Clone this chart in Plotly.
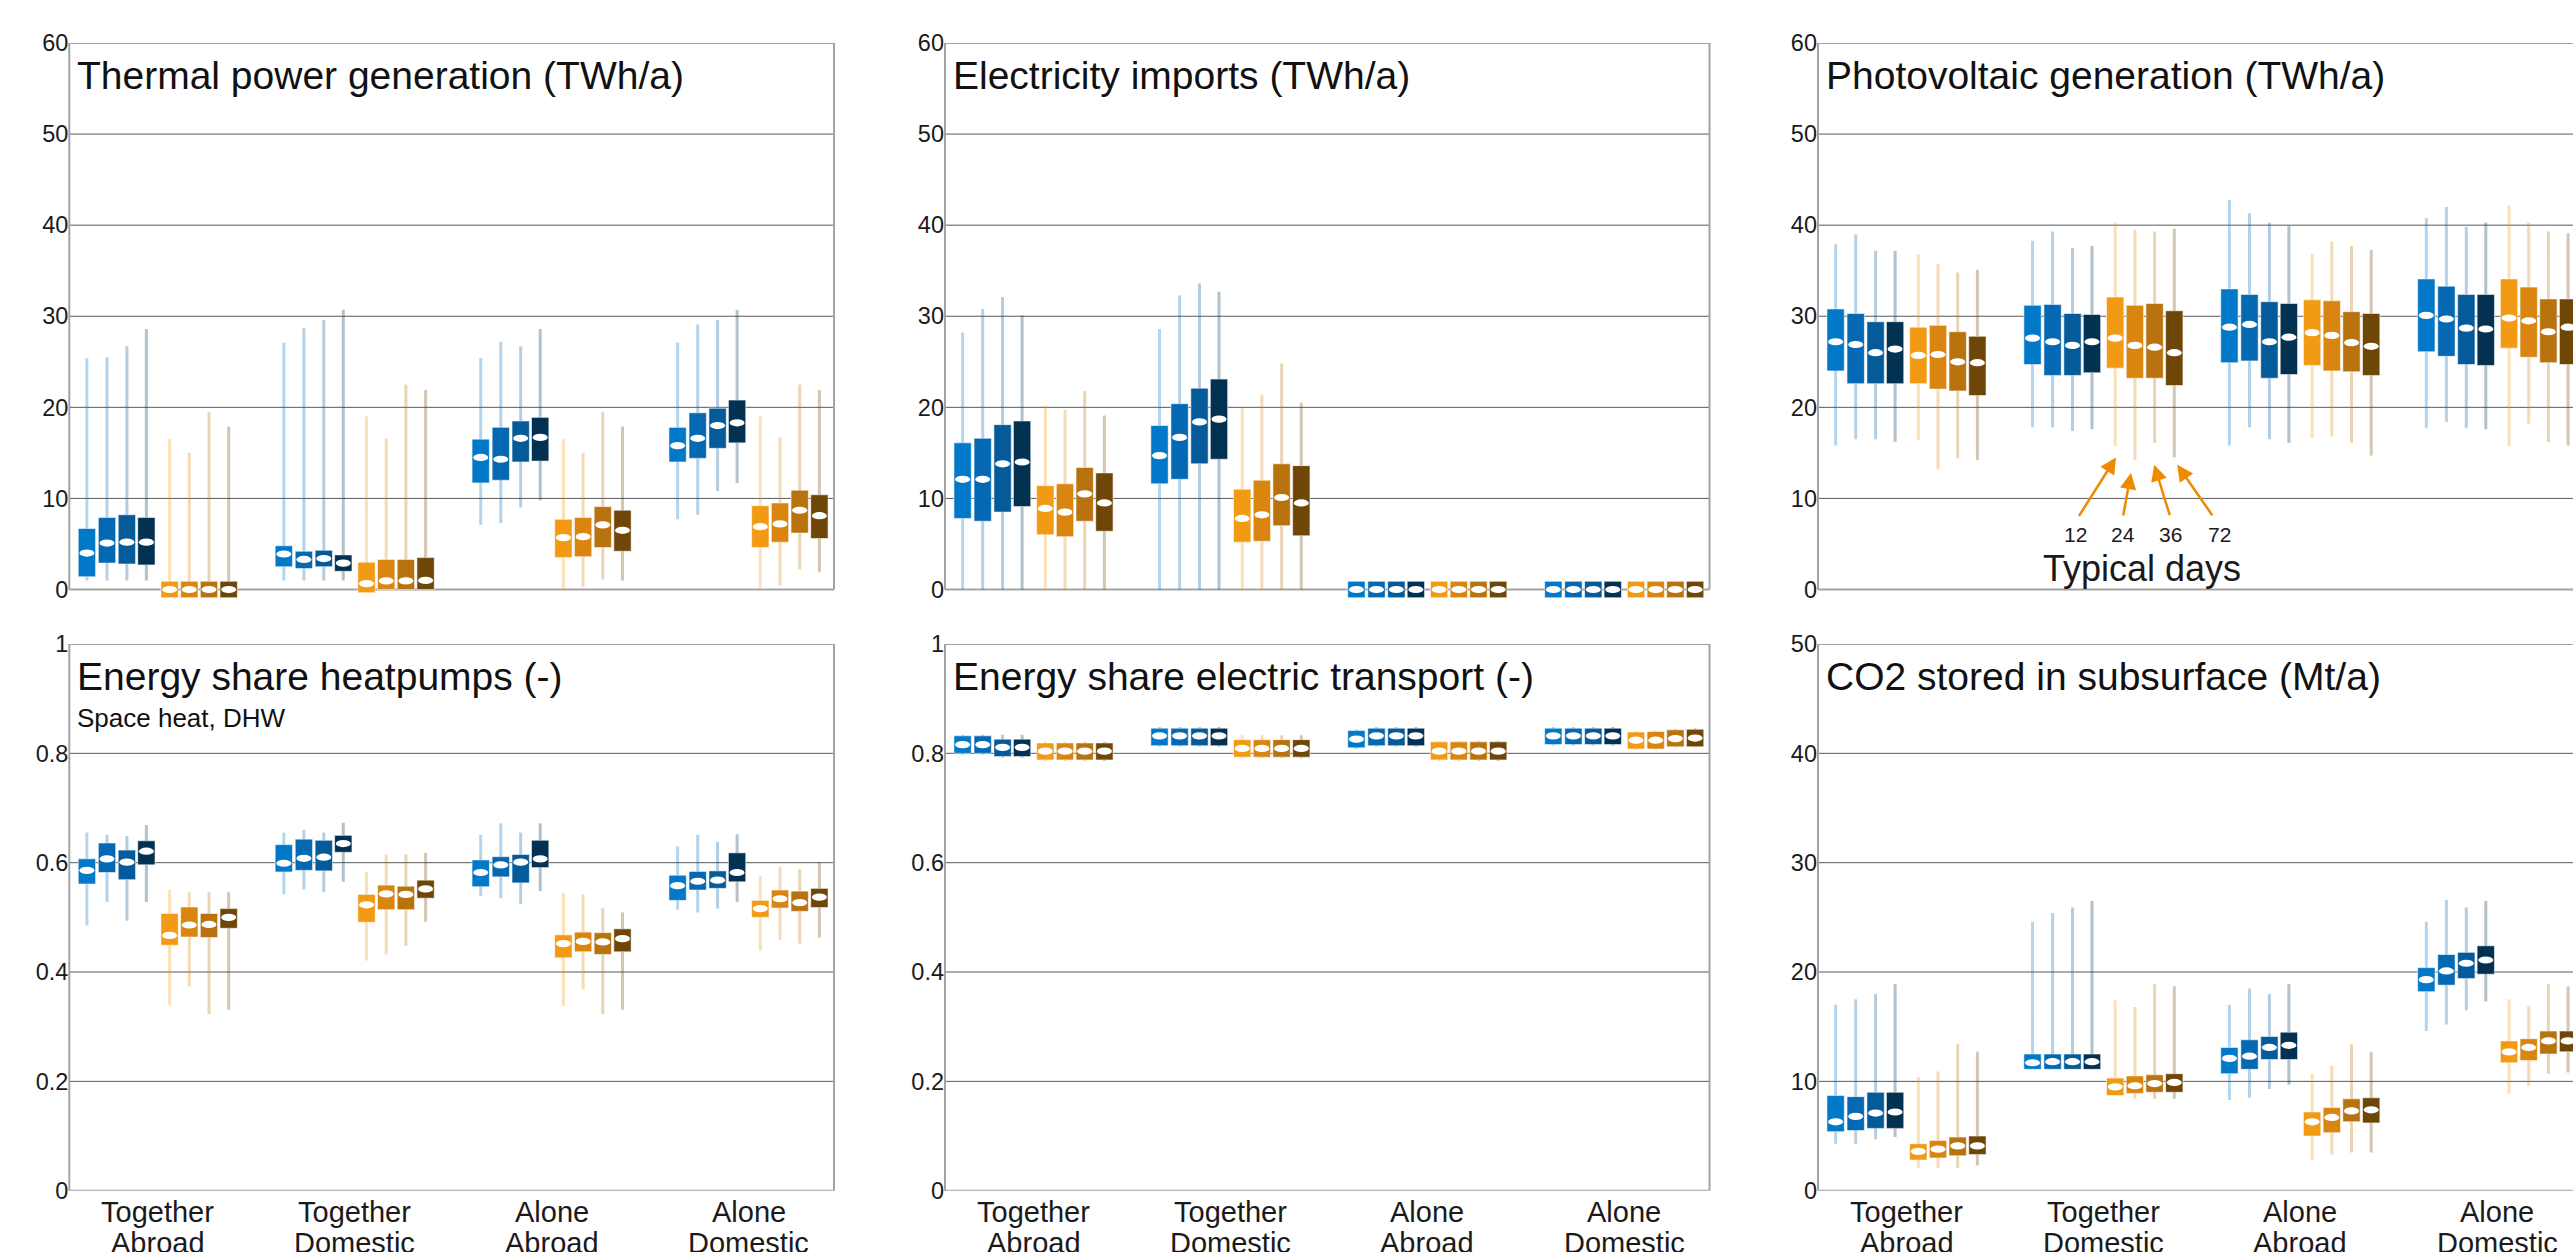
import plotly.graph_objects as go

W, H = 2573, 1252

# ---------------- data ----------------
group_line1 = ["Together", "Together", "Alone", "Alone"]
group_line2 = ["Abroad", "Domestic", "Abroad", "Domestic"]
typical_days = ["12", "24", "36", "72"]
# order inside each group: blue 12,24,36,72 then orange 12,24,36,72

thermal_lo = [[1.0, 1.0, 1.0, 1.0, 0, 0, 0, 0], [1.0, 1.0, 1.0, 1.0, 0, 0, 0, 0],
              [7.1, 7.3, 9.0, 9.8, 0, 0.3, 1.1, 1.0], [7.7, 8.2, 10.8, 11.7, 0.2, 0.4, 2.2, 1.9]]
thermal_q1 = [[1.4, 2.9, 2.8, 2.7, -0.9, -0.9, -0.9, -0.9], [2.5, 2.3, 2.5, 2.0, -0.35, 0, 0, 0],
              [11.7, 12.0, 14.0, 14.1, 3.5, 3.6, 4.6, 4.2], [14.0, 14.4, 15.5, 16.1, 4.6, 5.2, 6.2, 5.6]]
thermal_med = [[4.0, 5.1, 5.2, 5.2, 0, 0, 0, 0], [3.9, 3.3, 3.4, 2.9, 0.65, 0.95, 0.95, 1.0],
               [14.5, 14.3, 16.6, 16.7, 5.7, 5.8, 7.1, 6.5], [15.8, 16.6, 18.0, 18.3, 6.9, 7.2, 8.7, 8.1]]
thermal_q3 = [[6.7, 7.9, 8.2, 7.9, 0.9, 0.9, 0.9, 0.9], [4.8, 4.2, 4.3, 3.8, 3.0, 3.3, 3.3, 3.5],
              [16.5, 17.8, 18.5, 18.9, 7.7, 7.9, 9.1, 8.7], [17.8, 19.4, 19.9, 20.8, 9.2, 9.5, 10.9, 10.4]]
thermal_hi = [[25.4, 25.5, 26.7, 28.6, 16.5, 15.0, 19.5, 17.9], [27.1, 28.7, 29.6, 30.7, 19.0, 16.6, 22.5, 21.9],
              [25.4, 27.2, 26.7, 28.6, 16.5, 15.0, 19.5, 17.9], [27.1, 29.1, 29.6, 30.7, 19.0, 16.7, 22.5, 21.9]]

imports_lo = [[0, 0, 0, 0, 0, 0, 0, 0], [0, 0, 0, 0, 0, 0, 0, 0],
              [0, 0, 0, 0, 0, 0, 0, 0], [0, 0, 0, 0, 0, 0, 0, 0]]
imports_q1 = [[7.8, 7.5, 8.5, 9.1, 6.0, 5.8, 7.5, 6.4], [11.6, 12.1, 13.8, 14.3, 5.2, 5.3, 7.0, 5.9],
              [-0.9, -0.9, -0.9, -0.9, -0.9, -0.9, -0.9, -0.9], [-0.9, -0.9, -0.9, -0.9, -0.9, -0.9, -0.9, -0.9]]
imports_med = [[12.1, 12.1, 13.8, 14.0, 8.9, 8.5, 10.5, 9.5], [14.7, 16.7, 18.4, 18.7, 7.8, 8.2, 10.1, 9.5],
               [0, 0, 0, 0, 0, 0, 0, 0], [0, 0, 0, 0, 0, 0, 0, 0]]
imports_q3 = [[16.1, 16.6, 18.1, 18.5, 11.4, 11.6, 13.4, 12.8], [18.0, 20.4, 22.1, 23.1, 11.0, 12.0, 13.8, 13.6],
              [0.9, 0.9, 0.9, 0.9, 0.9, 0.9, 0.9, 0.9], [0.9, 0.9, 0.9, 0.9, 0.9, 0.9, 0.9, 0.9]]
imports_hi = [[28.2, 30.8, 32.1, 30.1, 20.2, 19.7, 21.8, 19.1], [28.6, 32.3, 33.6, 32.7, 20.0, 21.4, 24.8, 20.5],
              [0, 0, 0, 0, 0, 0, 0, 0], [0, 0, 0, 0, 0, 0, 0, 0]]

pv_lo = [[15.8, 16.5, 16.5, 16.2, 16.4, 13.2, 14.4, 14.2], [17.8, 17.8, 17.4, 17.6, 15.7, 14.2, 16.1, 14.5],
         [15.8, 17.8, 16.5, 16.1, 16.6, 16.8, 16.1, 14.7], [17.7, 18.4, 17.7, 17.6, 15.7, 18.2, 16.2, 15.8]]
pv_q1 = [[24.0, 22.6, 22.6, 22.6, 22.6, 22.0, 21.8, 21.3], [24.7, 23.5, 23.5, 23.8, 24.3, 23.2, 23.2, 22.4],
         [24.9, 25.1, 23.2, 23.6, 24.6, 24.0, 23.9, 23.5], [26.1, 25.6, 24.7, 24.6, 26.5, 25.5, 24.9, 24.7]]
pv_med = [[27.2, 26.9, 26.0, 26.4, 25.7, 25.8, 25.0, 24.9], [27.6, 27.2, 26.8, 27.2, 27.6, 26.8, 26.6, 26.0],
          [28.8, 29.1, 27.2, 27.7, 28.2, 27.9, 27.1, 26.7], [30.1, 29.7, 28.7, 28.6, 29.8, 29.5, 28.3, 28.8]]
pv_q3 = [[30.8, 30.3, 29.4, 29.4, 28.8, 29.0, 28.3, 27.8], [31.2, 31.3, 30.3, 30.2, 32.1, 31.2, 31.4, 30.6],
         [33.0, 32.4, 31.6, 31.4, 31.8, 31.7, 30.5, 30.3], [34.1, 33.3, 32.4, 32.4, 34.1, 33.2, 31.9, 31.9]]
pv_hi = [[37.9, 39.0, 37.2, 37.2, 36.8, 35.7, 34.8, 35.1], [38.3, 39.3, 37.5, 37.7, 40.3, 39.5, 39.3, 39.6],
         [42.8, 41.3, 40.3, 39.9, 36.9, 38.2, 37.7, 37.3], [40.8, 42.0, 39.8, 40.3, 42.2, 40.3, 39.3, 39.1]]

hp_lo = [[0.485, 0.528, 0.494, 0.528, 0.339, 0.373, 0.323, 0.331], [0.542, 0.551, 0.546, 0.565, 0.421, 0.432, 0.448, 0.492],
         [0.539, 0.535, 0.524, 0.548, 0.338, 0.368, 0.323, 0.331], [0.514, 0.509, 0.516, 0.528, 0.439, 0.459, 0.452, 0.463]]
hp_q1 = [[0.561, 0.582, 0.569, 0.596, 0.449, 0.464, 0.463, 0.480], [0.583, 0.586, 0.585, 0.619, 0.491, 0.514, 0.514, 0.535],
         [0.556, 0.574, 0.563, 0.591, 0.426, 0.437, 0.432, 0.437], [0.531, 0.550, 0.553, 0.565, 0.500, 0.517, 0.511, 0.518]]
hp_med = [[0.586, 0.607, 0.601, 0.621, 0.467, 0.486, 0.487, 0.500], [0.599, 0.608, 0.610, 0.635, 0.523, 0.543, 0.542, 0.552],
          [0.582, 0.596, 0.601, 0.607, 0.452, 0.456, 0.455, 0.461], [0.558, 0.566, 0.568, 0.582, 0.516, 0.534, 0.527, 0.537]]
hp_q3 = [[0.607, 0.636, 0.623, 0.640, 0.507, 0.519, 0.507, 0.516], [0.633, 0.643, 0.641, 0.650, 0.542, 0.559, 0.557, 0.568],
         [0.605, 0.611, 0.615, 0.641, 0.468, 0.473, 0.472, 0.479], [0.577, 0.584, 0.585, 0.618, 0.531, 0.550, 0.548, 0.553]]
hp_hi = [[0.655, 0.651, 0.649, 0.669, 0.550, 0.546, 0.546, 0.546], [0.655, 0.660, 0.655, 0.673, 0.583, 0.615, 0.615, 0.618],
         [0.651, 0.672, 0.655, 0.672, 0.545, 0.542, 0.517, 0.509], [0.630, 0.651, 0.638, 0.652, 0.576, 0.593, 0.588, 0.600]]

tr_lo = [[0.798, 0.798, 0.792, 0.792, 0.786, 0.786, 0.786, 0.786], [0.812, 0.812, 0.812, 0.812, 0.791, 0.791, 0.791, 0.791],
         [0.808, 0.812, 0.812, 0.812, 0.786, 0.786, 0.786, 0.786], [0.814, 0.814, 0.814, 0.814, 0.806, 0.806, 0.810, 0.811]]
tr_q1 = [[0.800, 0.800, 0.794, 0.794, 0.788, 0.788, 0.788, 0.788], [0.814, 0.814, 0.814, 0.814, 0.793, 0.793, 0.793, 0.793],
         [0.810, 0.814, 0.814, 0.814, 0.788, 0.788, 0.788, 0.788], [0.816, 0.816, 0.816, 0.816, 0.808, 0.808, 0.812, 0.812]]
tr_med = [[0.816, 0.816, 0.811, 0.811, 0.804, 0.804, 0.804, 0.804], [0.832, 0.832, 0.832, 0.832, 0.809, 0.809, 0.809, 0.809],
          [0.826, 0.832, 0.832, 0.832, 0.804, 0.804, 0.804, 0.804], [0.832, 0.832, 0.832, 0.832, 0.824, 0.824, 0.827, 0.828]]
tr_q3 = [[0.832, 0.832, 0.826, 0.826, 0.819, 0.819, 0.819, 0.819], [0.846, 0.846, 0.846, 0.846, 0.825, 0.825, 0.825, 0.825],
         [0.842, 0.846, 0.846, 0.846, 0.821, 0.821, 0.821, 0.821], [0.846, 0.846, 0.846, 0.846, 0.839, 0.840, 0.843, 0.844]]
tr_hi = [[0.834, 0.834, 0.834, 0.834, 0.821, 0.821, 0.821, 0.821], [0.848, 0.848, 0.848, 0.848, 0.833, 0.833, 0.833, 0.833],
         [0.844, 0.848, 0.848, 0.848, 0.823, 0.823, 0.823, 0.823], [0.848, 0.848, 0.848, 0.848, 0.841, 0.842, 0.845, 0.846]]

co2_lo = [[4.3, 4.3, 4.7, 4.9, 2.1, 2.1, 2.1, 2.3], [11.1, 11.1, 11.1, 11.1, 8.7, 8.4, 8.4, 8.4],
          [8.3, 8.5, 9.3, 9.7, 2.8, 3.3, 3.5, 3.5], [14.6, 15.2, 16.5, 17.3, 8.9, 9.6, 10.7, 10.8]]
co2_q1 = [[5.4, 5.5, 5.7, 5.7, 2.8, 3.0, 3.2, 3.3], [11.1, 11.1, 11.1, 11.1, 8.7, 8.9, 9.0, 9.0],
          [10.7, 11.1, 12.0, 12.0, 5.0, 5.3, 6.3, 6.2], [18.2, 18.8, 19.4, 19.8, 11.7, 11.9, 12.5, 12.7]]
co2_med = [[6.3, 6.8, 7.1, 7.2, 3.6, 3.8, 4.1, 4.1], [11.7, 11.8, 11.8, 11.8, 9.5, 9.6, 9.8, 9.9],
           [12.1, 12.3, 13.1, 13.3, 6.3, 6.7, 7.3, 7.4], [19.3, 20.1, 20.8, 21.1, 12.7, 13.1, 13.7, 13.7]]
co2_q3 = [[8.7, 8.6, 9.0, 9.0, 4.3, 4.6, 4.9, 5.0], [12.5, 12.5, 12.5, 12.5, 10.3, 10.5, 10.6, 10.7],
          [13.1, 13.8, 14.1, 14.5, 7.2, 7.6, 8.4, 8.5], [20.4, 21.6, 21.8, 22.4, 13.7, 13.9, 14.6, 14.6]]
co2_hi = [[17.0, 17.5, 18.0, 18.9, 10.4, 10.9, 13.4, 12.7], [24.6, 25.4, 25.9, 26.5, 17.4, 16.8, 18.9, 18.7],
          [17.0, 18.5, 18.0, 18.9, 10.7, 11.4, 13.4, 12.7], [24.6, 26.6, 25.9, 26.5, 17.5, 16.9, 18.9, 18.7]]

ticks_60 = [0, 10, 20, 30, 40, 50, 60]
ticks_1 = [0, 0.2, 0.4, 0.6, 0.8, 1]
ticktext_1 = ["0", "0.2", "0.4", "0.6", "0.8", "1"]
ticks_50 = [0, 10, 20, 30, 40, 50]

# ---------------- styling ----------------
FONT = "Liberation Sans, Arial, Helvetica, sans-serif"
COLORS = ["#0278c8", "#0468b3", "#055a9a", "#033152",
          "#f29a14", "#d9850f", "#b8720e", "#6e4608"]
OFFSETS = [-0.36, -0.258, -0.157, -0.058, 0.06, 0.16, 0.26, 0.36]
BOX_W = 0.088
GROUP_PX = 196.9
X_LEFT = -0.4495


def rgba(hexc, a):
    h = hexc.lstrip("#")
    return "rgba(%d,%d,%d,%.2f)" % (int(h[0:2], 16), int(h[2:4], 16), int(h[4:6], 16), a)


def px(xp):
    return xp / W


def py(yp):
    return 1 - yp / H


ROW1_TOP, ROW1_ZERO, ROW1_PXU = 43.0, 589.5, 9.108
ROW2_TOP, ROW2_ZERO = 644.0, 1190.7
COLS = [(69.3, 834.0), (945.0, 1709.5), (1818.0, 2573.0)]
BELOW = 1.3

panels = [
    dict(title="Thermal power generation (TWh/a)", sub=None, d=(thermal_lo, thermal_q1, thermal_med, thermal_q3, thermal_hi),
         ymax=60, tv=ticks_60, tt=[str(v) for v in ticks_60], row=1, col=0),
    dict(title="Electricity imports (TWh/a)", sub=None, d=(imports_lo, imports_q1, imports_med, imports_q3, imports_hi),
         ymax=60, tv=ticks_60, tt=[str(v) for v in ticks_60], row=1, col=1),
    dict(title="Photovoltaic generation (TWh/a)", sub=None, d=(pv_lo, pv_q1, pv_med, pv_q3, pv_hi),
         ymax=60, tv=ticks_60, tt=[str(v) for v in ticks_60], row=1, col=2),
    dict(title="Energy share heatpumps (-)", sub="Space heat, DHW", d=(hp_lo, hp_q1, hp_med, hp_q3, hp_hi),
         ymax=1, tv=ticks_1, tt=ticktext_1, row=2, col=0),
    dict(title="Energy share electric transport (-)", sub=None, d=(tr_lo, tr_q1, tr_med, tr_q3, tr_hi),
         ymax=1, tv=ticks_1, tt=ticktext_1, row=2, col=1),
    dict(title="CO2 stored in subsurface (Mt/a)", sub=None, d=(co2_lo, co2_q1, co2_med, co2_q3, co2_hi),
         ymax=50, tv=ticks_50, tt=[str(v) for v in ticks_50], row=2, col=2),
]

fig = go.Figure()
layout = dict(width=W, height=H, margin=dict(l=0, r=0, t=0, b=0, autoexpand=False), paper_bgcolor="white",
              plot_bgcolor="white", showlegend=False, barmode="overlay", font=dict(family=FONT, color="#1a1a1a"))
shapes = []
annotations = []

for i, p in enumerate(panels, start=1):
    sfx = "" if i == 1 else str(i)
    xa, ya = "x" + sfx, "y" + sfx
    lo, q1, med, q3, hi = p["d"]
    xl, xr = COLS[p["col"]]
    xmax = X_LEFT + (xr - xl) / GROUP_PX
    if p["row"] == 1:
        ybot_px = ROW1_ZERO + BELOW * ROW1_PXU
        ydom = [py(ybot_px), py(ROW1_TOP)]
        yrange = [-BELOW, p["ymax"]]
        top_px = ROW1_TOP
    else:
        ydom = [py(ROW2_ZERO), py(ROW2_TOP)]
        yrange = [0, p["ymax"]]
        top_px = ROW2_TOP
    layout["xaxis" + sfx] = dict(domain=[px(xl), min(1.0, px(xr))], range=[X_LEFT, xmax], anchor=ya,
                                 showgrid=False, zeroline=False, showticklabels=False, showline=False,
                                 ticks="", fixedrange=True)
    layout["yaxis" + sfx] = dict(domain=ydom, range=yrange, anchor=xa, tickmode="array", tickvals=p["tv"],
                                 ticktext=p["tt"], showgrid=False,
                                 zeroline=False, showline=False, ticks="", automargin=False,
                                 tickfont=dict(family=FONT, size=23.5, color="#1a1a1a"), fixedrange=True)

    # gridlines (interior) and frame, drawn beneath the data
    dref = xa + " domain"
    xend = 1.05 if p["col"] == 2 else 1
    for tv in p["tv"][1:-1]:
        shapes.append(dict(type="line", xref=dref, yref=ya, x0=0, x1=xend, y0=tv, y1=tv,
                           line=dict(color="#5a5a5a", width=1), layer="below"))
    fc = dict(color="#a3a3a3", width=2)
    shapes.append(dict(type="line", xref=dref, yref=ya, x0=0, x1=0, y0=0, y1=p["ymax"], line=fc, layer="below"))
    shapes.append(dict(type="line", xref=dref, yref=ya, x0=0, x1=xend, y0=p["ymax"], y1=p["ymax"], line=fc, layer="below"))
    shapes.append(dict(type="line", xref=dref, yref=ya, x0=0, x1=xend, y0=0, y1=0, line=fc, layer="below"))
    if p["col"] != 2:
        shapes.append(dict(type="line", xref=dref, yref=ya, x0=1, x1=1, y0=0, y1=p["ymax"], line=fc, layer="below"))

    for s in range(8):
        xs = [g + OFFSETS[s] for g in range(4)]
        wx, wy = [], []
        for g in range(4):
            if lo[g][s] < q1[g][s]:
                wx += [xs[g], xs[g], None]
                wy += [lo[g][s], q1[g][s], None]
            if hi[g][s] > q3[g][s]:
                wx += [xs[g], xs[g], None]
                wy += [q3[g][s], hi[g][s], None]
        fig.add_trace(go.Scatter(x=wx, y=wy, mode="lines", xaxis=xa, yaxis=ya,
                                 line=dict(color=rgba(COLORS[s], 0.3), width=3), hoverinfo="skip"))
        fig.add_trace(go.Bar(x=xs, y=[q3[g][s] - q1[g][s] for g in range(4)], base=[q1[g][s] for g in range(4)],
                             width=BOX_W, xaxis=xa, yaxis=ya,
                             marker=dict(color=COLORS[s], line=dict(color="rgba(255,255,255,0.55)", width=1)),
                             name=("Blue" if s < 4 else "Orange") + " " + typical_days[s % 4]))
        for g in range(4):
            shapes.append(dict(type="circle", xref=xa, yref=ya, xsizemode="pixel", ysizemode="pixel",
                               xanchor=xs[g], yanchor=med[g][s], x0=-7.5, x1=7.5, y0=-3.6, y1=3.6,
                               fillcolor="white", line=dict(width=0), layer="above"))

    # title
    annotations.append(dict(text=p["title"], xref="paper", yref="paper", x=px(xl + 6), y=py(top_px + 32.5),
                            xanchor="left", yanchor="middle", showarrow=False,
                            font=dict(family=FONT, size=39, color="#111")))
    if p["sub"]:
        annotations.append(dict(text=p["sub"], xref="paper", yref="paper", x=px(xl + 6), y=py(top_px + 73.5),
                                xanchor="left", yanchor="middle", showarrow=False,
                                font=dict(family=FONT, size=26, color="#111")))
    # category labels (bottom row)
    if p["row"] == 2:
        for g in range(4):
            annotations.append(dict(text=group_line1[g], xref=xa, yref="paper", x=g, y=py(1212.0),
                                    xanchor="center", yanchor="middle", showarrow=False,
                                    font=dict(family=FONT, size=29, color="#1a1a1a")))
            annotations.append(dict(text=group_line2[g], xref=xa, yref="paper", x=g, y=py(1243.0),
                                    xanchor="center", yanchor="middle", showarrow=False,
                                    font=dict(family=FONT, size=29, color="#1a1a1a")))

# "Typical days" callout in the photovoltaic panel (Together Domestic, orange)
arrow_heads_y = [14.5, 12.8, 13.7, 13.7]
arrow_dx = [0.004, -0.02, -0.002, 0.015]
arrow_ax = [-38, -8, 16, 36]
arrow_ay = [60, 44, 52, 52]
label_px = [2075, 2122.7, 2170.7, 2219]
for k in range(4):
    annotations.append(dict(text="", xref="x3", yref="y3", x=1 + OFFSETS[4 + k] + arrow_dx[k], y=arrow_heads_y[k],
                            ax=arrow_ax[k], ay=arrow_ay[k], showarrow=True, arrowhead=2, arrowsize=1.3,
                            arrowwidth=2.5, arrowcolor="#ee8a00", standoff=0))
    annotations.append(dict(text=typical_days[k], xref="paper", yref="paper", x=px(label_px[k]), y=py(534),
                            xanchor="center", yanchor="middle", showarrow=False,
                            font=dict(family=FONT, size=21, color="#1a1a1a")))
annotations.append(dict(text="Typical days", xref="paper", yref="paper", x=px(2141.7), y=py(568),
                        xanchor="center", yanchor="middle", showarrow=False,
                        font=dict(family=FONT, size=36, color="#1a1a1a")))

layout["shapes"] = shapes
layout["annotations"] = annotations
fig.update_layout(**layout)
fig.write_html("out.html", config={"displayModeBar": False},
               post_script="document.body.style.margin='0';document.body.style.overflow='hidden';")
